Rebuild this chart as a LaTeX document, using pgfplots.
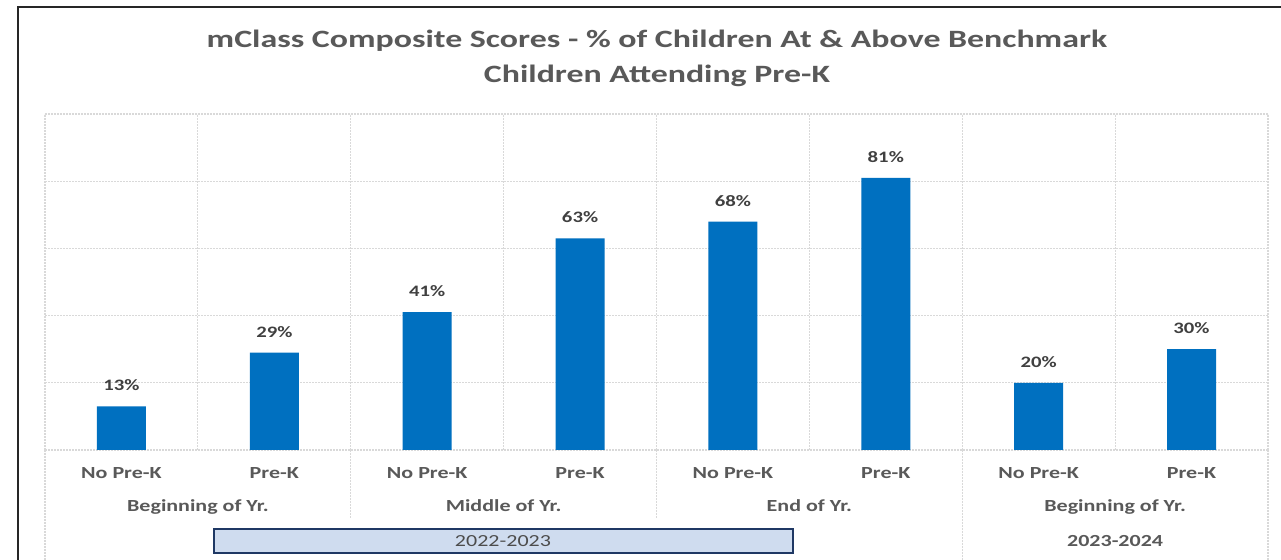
\documentclass[border=0pt]{standalone}
\usepackage{fontspec}
\setmainfont{Carlito}[FakeStretch=1.18]
\newfontfamily\titlefont{Carlito}[FakeStretch=1.36]
\newfontfamily\lblfont{Carlito}[FakeStretch=1.3]
\usepackage{pgfplots}
\pgfplotsset{compat=1.18}
\definecolor{barblue}{HTML}{0070C0}
\definecolor{txtgray}{HTML}{595959}
\definecolor{lblgray}{HTML}{404040}
\definecolor{gridgray}{HTML}{D9D9D9}
\definecolor{boxfill}{HTML}{CFDCEF}
\definecolor{boxdraw}{HTML}{1F3864}
\tikzset{catlbl/.style={font=\lblfont\bfseries\fontsize{17}{17}\selectfont, text=txtgray, anchor=base},
  sep/.style={gridgray, line width=1.2bp, dash pattern=on 2bp off 1bp}}
\begin{document}
\begin{tikzpicture}[x=1bp,y=1bp]
\useasboundingbox (0,0) rectangle (1281,560);
\fill[white] (0,0) rectangle (1281,560);
\draw[line width=2bp, black!85] (18,-5) -- (18,553) -- (1290,553);
\node[font=\titlefont\bfseries\fontsize{25}{25}\selectfont, text=txtgray, anchor=base] at (657,512) {mClass Composite Scores - \% of Children At \& Above Benchmark};
\node[font=\titlefont\bfseries\fontsize{25}{25}\selectfont, text=txtgray, anchor=base] at (657,477) {Children Attending Pre-K};
\begin{axis}[
  at={(45bp,110bp)}, anchor=south west,
  scale only axis, width=1223bp, height=336bp,
  xmin=0, xmax=8, ymin=0, ymax=100,
  axis line style={draw=none},
  major tick length=0pt,
  xtick={0,...,8}, xticklabels={},
  ytick={0,20,...,100}, yticklabels={},
  xmajorgrids, ymajorgrids,
  major grid style={gridgray, line width=1.2bp, dash pattern=on 2bp off 1bp},
  /pgf/number format/assume math mode=true,
  ybar, bar width=49bp,
  nodes near coords={\pgfmathprintnumber{\pgfplotspointmeta}\%},
  every node near coord/.append style={font=\lblfont\bfseries\fontsize{16}{16}\selectfont, text=lblgray, anchor=south, inner sep=0pt, yshift=15bp},
  clip=false,
]
\addplot[fill=barblue, draw=none] coordinates {(0.5,13) (1.5,29) (2.5,41) (3.5,63) (4.5,68) (5.5,81) (6.5,20) (7.5,30)};
% separators below the plot
\draw[sep] (axis cs:2,0) -- ++(0,-68bp);
\draw[sep] (axis cs:4,0) -- ++(0,-68bp);
\draw[sep] (axis cs:0,0) -- ++(0,-120bp);
\draw[sep] (axis cs:6,0) -- ++(0,-120bp);
\draw[sep] (axis cs:8,0) -- ++(0,-120bp);
% category labels
\node[catlbl] at ([yshift=-29bp]axis cs:0.5,0) {No Pre-K};
\node[catlbl] at ([yshift=-29bp]axis cs:1.5,0) {Pre-K};
\node[catlbl] at ([yshift=-29bp]axis cs:2.5,0) {No Pre-K};
\node[catlbl] at ([yshift=-29bp]axis cs:3.5,0) {Pre-K};
\node[catlbl] at ([yshift=-29bp]axis cs:4.5,0) {No Pre-K};
\node[catlbl] at ([yshift=-29bp]axis cs:5.5,0) {Pre-K};
\node[catlbl] at ([yshift=-29bp]axis cs:6.5,0) {No Pre-K};
\node[catlbl] at ([yshift=-29bp]axis cs:7.5,0) {Pre-K};
\node[catlbl] at ([yshift=-62bp]axis cs:1,0) {Beginning of Yr.};
\node[catlbl] at ([yshift=-62bp]axis cs:3,0) {Middle of Yr.};
\node[catlbl] at ([yshift=-62bp]axis cs:5,0) {End of Yr.};
\node[catlbl] at ([yshift=-62bp]axis cs:7,0) {Beginning of Yr.};
\node[catlbl] at ([yshift=-97bp]axis cs:7,0) {2023-2024};
\end{axis}
\draw[boxdraw, line width=2bp, fill=boxfill] (214,7) rectangle (793,31);
\node[font=\lblfont\fontsize{17}{17}\selectfont, text=txtgray!85!black, anchor=base] at (503,13) {2022-2023};
\end{tikzpicture}
\end{document}
